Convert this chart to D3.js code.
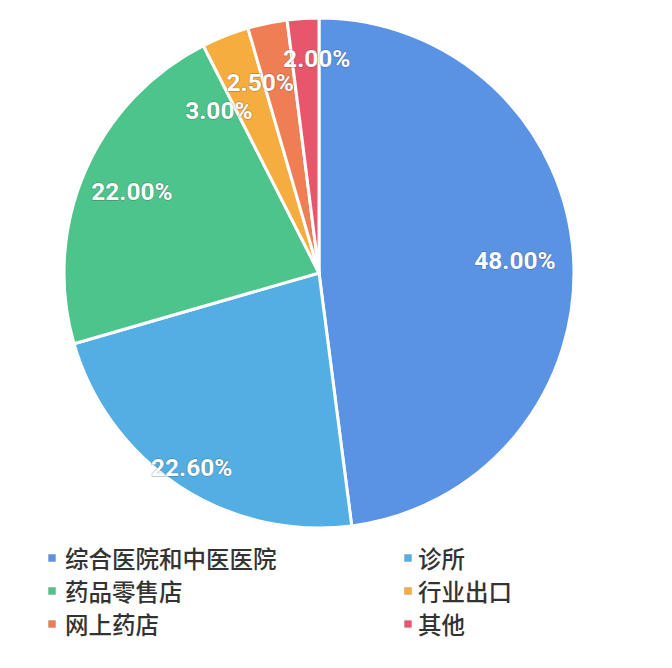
<!DOCTYPE html>
<html><head><meta charset="utf-8">
<script src="https://cdn.jsdelivr.net/npm/d3@7"></script>
<style>
html,body{margin:0;padding:0;background:#fff;}
svg{display:block;}
</style></head>
<body>
<svg id="chart" width="672" height="668"></svg>
<script>
const categories = ["综合医院和中医医院","诊所","药品零售店","行业出口","网上药店","其他"];
const values = [48, 22.6, 22, 3, 2.5, 2];
const valueLabels = ["48.00%","22.60%","22.00%","3.00%","2.50%","2.00%"];
const colors = ["#5a93e4","#52aee3","#4dc48b","#f6ad3f","#ef7e55","#e8566c"];

// label layout tweaks (radius fraction, angle shift in degrees) to avoid overlap
const labelRadiusFrac = [0.77, 0.91, 0.80, 0.75, 0.78, 0.84];
const labelAngleShift = [0, 0, 0, -10, -5.5, 3];

const svg = d3.select("#chart");
const cx = 319, cy = 273, R = 255;
const g = svg.append("g").attr("transform", `translate(${cx},${cy})`);

const pie = d3.pie().sort(null).value(d => d)(values);
const arc = d3.arc().innerRadius(0).outerRadius(R);

g.selectAll("path.slice").data(pie).enter().append("path")
  .attr("class","slice")
  .attr("d", arc)
  .attr("fill", (d,i) => colors[i])
  .attr("stroke", "#fff")
  .attr("stroke-width", 3)
  .attr("stroke-linejoin","round");

g.selectAll("text.lbl").data(pie).enter().append("text")
  .attr("class","lbl")
  .attr("x", (d,i) => {
    const a = (d.startAngle + d.endAngle)/2 + labelAngleShift[i]*Math.PI/180;
    return Math.sin(a) * R * labelRadiusFrac[i];
  })
  .attr("y", (d,i) => {
    const a = (d.startAngle + d.endAngle)/2 + labelAngleShift[i]*Math.PI/180;
    return -Math.cos(a) * R * labelRadiusFrac[i];
  })
  .attr("text-anchor","middle")
  .attr("dominant-baseline","central")
  .attr("font-family","Roboto, 'Liberation Sans', sans-serif")
  .attr("font-weight","bold")
  .attr("font-size", 24.5)
  .attr("fill","#fbfdff")
  .attr("stroke","rgba(60,60,60,0.35)")
  .attr("stroke-width",1.3)
  .attr("paint-order","stroke")
  .text((d,i) => valueLabels[i]);

// legend: two columns
const legendX = [52, 408];
const legendY0 = 558, legendDy = 33;
const leg = svg.append("g");
categories.forEach((c,i) => {
  const col = i % 2, row = Math.floor(i/2);
  const x = legendX[col], y = legendY0 + row*legendDy;
  leg.append("rect")
    .attr("x", x-3.5).attr("y", y-3.5).attr("width",7).attr("height",7)
    .attr("fill", colors[i]).attr("stroke","rgba(0,0,0,0.15)").attr("stroke-width",0.8);
  leg.append("text")
    .attr("x", x + (col===0 ? 13 : 10)).attr("y", y)
    .attr("dominant-baseline","central")
    .attr("font-family","'Noto Sans CJK SC', sans-serif")
    .attr("font-weight", 500)
    .attr("font-size", 23.5)
    .attr("fill","#333")
    .text(c);
});
</script>
</body></html>
